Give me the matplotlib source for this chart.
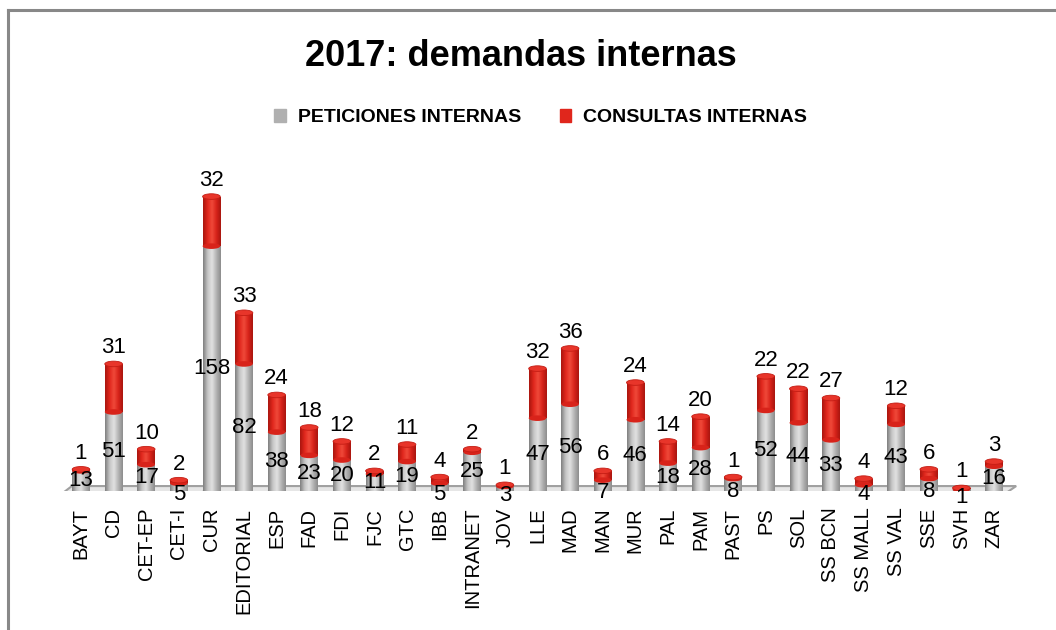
import numpy as np
import matplotlib
matplotlib.use("Agg")
import matplotlib.pyplot as plt
from matplotlib.colors import LinearSegmentedColormap
from matplotlib.patches import Ellipse, Polygon, Patch
from matplotlib.lines import Line2D

categorias = ["BAYT", "CD", "CET-EP", "CET-I", "CUR", "EDITORIAL", "ESP", "FAD", "FDI",
              "FJC", "GTC", "IBB", "INTRANET", "JOV", "LLE", "MAD", "MAN", "MUR", "PAL",
              "PAM", "PAST", "PS", "SOL", "SS BCN", "SS MALL", "SS VAL", "SSE", "SVH", "ZAR"]
peticiones = [13, 51, 17, 5, 158, 82, 38, 23, 20, 11, 19, 5, 25, 3, 47, 56, 7, 46, 18,
              28, 8, 52, 44, 33, 4, 43, 8, 1, 16]
consultas = [1, 31, 10, 2, 32, 33, 24, 18, 12, 2, 11, 4, 2, 1, 32, 36, 6, 24, 14,
             20, 1, 22, 22, 27, 4, 12, 6, 1, 3]

fuente = ["Liberation Sans", "DejaVu Sans"]

gris_cm = LinearSegmentedColormap.from_list("g", ["#7e7e7e", "#c4c4c4", "#e2e2e2", "#b4b4b4", "#8c8c8c"])
rojo_cm = LinearSegmentedColormap.from_list("r", ["#a8160f", "#e0261c", "#f04a3a", "#d8231a", "#a8160f"])
grad = np.linspace(0, 1, 64).reshape(1, -1)

fig = plt.figure(figsize=(10.56, 6.3), dpi=100)
ax = fig.add_axes([0.052, 0.2206, 0.914, 0.492])
x = np.arange(len(categorias))
w = 0.54

# suelo 3D
ax.add_patch(Polygon([(-0.64, -2.6), (-0.28, 3.2), (28.68, 3.2), (28.28, -2.6)],
                     closed=True, facecolor="#e6e6e6", edgecolor="#a0a0a0", lw=1.5, zorder=1))

b1 = ax.bar(x, peticiones, w, color="#b0b0b0", zorder=3)
b2 = ax.bar(x, consultas, w, bottom=peticiones, color="#e0261c", zorder=4)

eh = 3.6
for bars, cm, z in [(b1, gris_cm, 3), (b2, rojo_cm, 4)]:
    for r in bars:
        x0, y0 = r.get_x(), r.get_y()
        im = ax.imshow(grad, cmap=cm, aspect="auto", extent=[x0, x0 + r.get_width(), y0, y0 + r.get_height()],
                       zorder=z, interpolation="bicubic")
        im.set_clip_path(r)

for i in range(len(x)):
    ax.add_patch(Ellipse((x[i], 0), w, eh, facecolor="#9a9a9a", edgecolor="none", zorder=2.9))
    ax.add_patch(Ellipse((x[i], peticiones[i]), w, eh, facecolor="#d8231a", edgecolor="none", zorder=4.1))
    top = peticiones[i] + consultas[i]
    ax.add_patch(Ellipse((x[i], top), w, eh, facecolor="#e8352a", edgecolor="#c41d14", lw=0.6, zorder=4.2))
    yv = peticiones[i] / 2 if peticiones[i] >= 10 else peticiones[i] / 2 - 4.5
    ax.text(x[i], yv, str(peticiones[i]), ha="center", va="center",
            fontsize=16, family=fuente, color="black", zorder=6)
    ax.annotate(str(consultas[i]), (x[i], top), xytext=(0, 4), textcoords="offset points",
                ha="center", va="bottom", fontsize=16, family=fuente, zorder=6)

ax.set_xlim(-0.8, 28.8)
ax.set_ylim(0, 200)
ax.set_xticks(x)
ax.set_xticklabels(categorias, rotation=90, fontsize=14.5, family=fuente)
ax.tick_params(axis="x", length=0, pad=12)
ax.set_yticks([])
for s in ax.spines.values():
    s.set_visible(False)
ax.patch.set_alpha(0)

fig.text(0.493, 0.91, "2017: demandas internas", ha="center", va="center",
         fontsize=26, fontweight="bold", family=fuente)
handles = [Patch(color="#b0b0b0"), Patch(color="#e0261c")]
fig.legend(handles, ["PETICIONES INTERNAS", "CONSULTAS INTERNAS"], loc="center",
           bbox_to_anchor=(0.512, 0.813), ncol=2, frameon=False, handlelength=0.6,
           handleheight=0.6, columnspacing=2.0, handletextpad=0.6,
           prop={"family": fuente, "weight": "bold", "size": 14})

# marco
fig.add_artist(Line2D([0.0078, 1.0], [0.984, 0.984], color="#888888", lw=2.2))
fig.add_artist(Line2D([0.0078, 0.0078], [0.0, 0.984], color="#888888", lw=2.2))

fig.savefig("out.png", dpi=100)
